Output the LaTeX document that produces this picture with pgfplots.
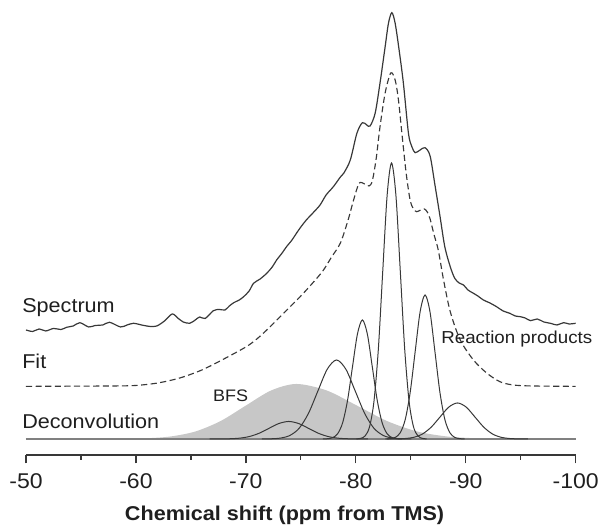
\documentclass[border=0pt]{standalone}
\usepackage{fontspec}
\setmainfont{Liberation Sans}[FakeStretch=1.08]
\usepackage{pgfplots}
\pgfplotsset{compat=1.18}
\definecolor{ln}{gray}{0.22}
\definecolor{bfs}{gray}{0.78}
\definecolor{txt}{gray}{0.12}
\begin{document}
\begin{tikzpicture}
\begin{axis}[
  scale only axis, width=412.3pt, height=341.25pt,
  xmin=-100, xmax=-50, x dir=reverse, ymin=-16, ymax=439,
  axis x line=bottom, axis y line=none,
  axis line style={-, line width=1pt, color=ln},
  xtick={-100,-90,-80,-70,-60,-50},
  xticklabels={-100,-90,-80,-70,-60,-50},
  minor xtick={-95,-85,-75,-65,-55},
  tick align=outside, major tick length=6.25pt, minor tick length=3.75pt,
  tick style={line width=1pt, color=ln},
  xticklabel style={anchor=base, inner sep=0pt, yshift=-19pt, font=\fontsize{16}{19}\selectfont, text=txt},
  clip=false,
]
% BFS area
\addplot[fill=bfs, draw=none, smooth] coordinates {
(-50,0) (-54,0) (-56.2,0.02) (-58.5,0.12) (-60.8,0.61) (-63.1,2.41) (-65.4,7.44) (-67.7,17.9) (-70.0,33.4) (-72.3,48.5) (-74.6,55)
(-77.35,48.5) (-80.1,33.4) (-82.85,17.9) (-85.6,7.44) (-88.35,2.41) (-91.1,0.61) (-93.85,0.12) (-96.6,0.02) (-100,0)} \closedcycle;
% baseline
\addplot[color=black!50, line width=1.3pt] coordinates {(-50,0) (-100,0)};
% components
\addplot[ln, line width=0.75pt, smooth] coordinates {
(-66.7,0.005) (-67.6,0.04) (-68.5,0.19) (-69.4,0.77) (-70.3,2.37) (-71.2,5.68) (-72.1,10.61) (-73.0,15.44) (-73.9,17.5)
(-74.8,15.44) (-75.7,10.61) (-76.6,5.68) (-77.5,2.37) (-78.4,0.77) (-79.3,0.19) (-80.2,0.04) (-81.1,0.005)};
\addplot[ln, line width=0.75pt, smooth] coordinates {
(-71.45,0.02) (-72.3,0.17) (-73.15,0.88) (-74.0,3.47) (-74.85,10.7) (-75.7,25.7) (-76.55,47.9) (-77.4,69.7) (-78.25,79)
(-79.1,69.7) (-79.95,47.9) (-80.8,25.7) (-81.65,10.7) (-82.5,3.47) (-83.35,0.88) (-84.2,0.17) (-85.05,0.02)};
\addplot[ln, line width=0.75pt, smooth] coordinates {
(-77.0,0.04) (-77.45,0.26) (-77.9,1.32) (-78.35,5.22) (-78.8,16.1) (-79.25,38.6) (-79.7,72.2) (-80.15,105.0) (-80.6,119)
(-81.05,105.0) (-81.5,72.2) (-81.95,38.6) (-82.4,16.1) (-82.85,5.22) (-83.3,1.32) (-83.75,0.26) (-84.2,0.04)};
\addplot[ln, line width=0.75pt, smooth] coordinates {
(-80.05,0.08) (-80.45,0.61) (-80.85,3.06) (-81.25,12.1) (-81.65,37.3) (-82.05,89.6) (-82.45,167.4) (-82.85,243.6) (-83.25,276)
(-83.65,243.6) (-84.05,167.4) (-84.45,89.6) (-84.85,37.3) (-85.25,12.1) (-85.65,3.06) (-86.05,0.61) (-86.45,0.08)};
\addplot[ln, line width=0.75pt, smooth] coordinates {
(-82.7,0.04) (-83.15,0.32) (-83.6,1.60) (-84.05,6.32) (-84.5,19.5) (-84.95,46.8) (-85.4,87.3) (-85.85,127.1) (-86.3,144)
(-86.75,127.1) (-87.2,87.3) (-87.65,46.8) (-88.1,19.5) (-88.55,6.32) (-89.0,1.60) (-89.45,0.32) (-89.9,0.04)};
\addplot[ln, line width=0.75pt, smooth] coordinates {
(-82.85,0.01) (-83.65,0.08) (-84.45,0.40) (-85.25,1.58) (-86.05,4.87) (-86.85,11.7) (-87.65,21.8) (-88.45,31.8) (-89.25,36)
(-90.05,31.8) (-90.85,21.8) (-91.65,11.7) (-92.45,4.87) (-93.25,1.58) (-94.05,0.40) (-94.85,0.08) (-95.65,0.01)};
% Fit
\addplot[ln, line width=0.85pt, smooth, dash pattern=on 4.6pt off 2.6pt] coordinates {
(-50,52.6) (-54,52.8) (-58,53) (-60,53.5) (-62,56) (-64,61) (-66,69) (-68,80) (-70,92) (-71,100) (-72,110) (-73,121)
(-74,132) (-75,143) (-76,155) (-77,168) (-77.8,182) (-78.6,196) (-79.3,219) (-79.8,239) (-80.3,255.7) (-80.8,255)
(-81.2,253) (-81.5,258) (-81.85,280) (-82.2,312) (-82.67,346) (-83.18,366) (-83.58,359) (-83.88,339) (-84.19,306)
(-84.58,266) (-84.94,239) (-85.25,230) (-85.55,227.3) (-85.9,229) (-86.24,230) (-86.5,227) (-86.76,220) (-87.1,205)
(-87.5,189) (-88.0,158) (-88.6,127) (-89.5,99) (-90.7,79) (-91.9,66) (-93.1,57.3) (-94.3,54) (-96,53) (-100,52.6)};
% Spectrum
\addplot[ln, line width=0.9pt, smooth] coordinates {
(-50,109) (-50.6,107.5) (-51.2,110) (-51.8,108) (-52.5,110.5) (-53.2,109.5) (-53.7,111.7) (-54.3,113) (-54.9,116.3)
(-55.7,112) (-56.3,113.5) (-57.0,114) (-57.6,116.7) (-58.6,112) (-59.2,114) (-59.8,115.7) (-60.5,114) (-61.3,112.5)
(-61.9,113) (-62.6,118) (-63.3,125) (-63.8,121) (-64.3,117) (-64.9,115.7) (-65.4,119) (-65.8,122) (-66.3,120.5)
(-67.05,128.3) (-67.6,129.5) (-68.1,129) (-68.5,133) (-68.9,136.3) (-69.4,139) (-69.8,142.3) (-70.3,148) (-70.7,155.7)
(-71.3,160) (-71.9,165.7) (-72.4,172) (-72.8,179) (-73.3,186) (-73.7,192.3) (-74.2,199) (-74.6,205.7) (-75.0,212)
(-75.5,219) (-76.1,226) (-76.75,234) (-77.3,244) (-77.96,252.3) (-78.6,262) (-78.9,265.7) (-79.5,279) (-80.1,305.7)
(-80.6,316.3) (-81.0,314) (-81.3,313) (-81.76,325.7) (-82.2,355.7) (-82.67,392.3) (-82.97,415.7) (-83.28,426.3)
(-83.58,415.7) (-83.94,389) (-84.33,355.7) (-84.79,305.7) (-85.1,292.3) (-85.4,286.3) (-85.85,289) (-86.3,291.3)
(-86.76,283) (-87.2,254) (-87.67,222) (-88.1,192) (-88.6,172) (-89.0,160.7) (-89.4,156) (-89.8,154) (-90.2,149)
(-90.7,145.7) (-91.1,143) (-91.6,139) (-92.2,136) (-92.8,132.3) (-93.4,128) (-94.0,125.7) (-94.5,123) (-94.95,122.3)
(-95.4,121) (-95.9,118.3) (-96.5,120) (-97.1,117) (-97.7,115.7) (-98.3,114) (-98.9,116.3) (-99.4,115) (-100,115.7)};
% labels
\node[anchor=base west, inner sep=0pt, text=txt, font=\fontsize{15}{18}\selectfont] at (axis cs:-49.64,126) {Spectrum};
\node[anchor=base west, inner sep=0pt, text=txt, font=\fontsize{15}{18}\selectfont] at (axis cs:-49.64,70) {Fit};
\node[anchor=base west, inner sep=0pt, text=txt, font=\fontsize{15}{18}\selectfont] at (axis cs:-49.64,10.7) {Deconvolution};
\node[anchor=base west, inner sep=0pt, text=txt, font=\fontsize{12.5}{15}\selectfont] at (axis cs:-66.99,37.3) {BFS};
\node[anchor=base west, inner sep=0pt, text=txt, font=\fontsize{13}{16}\selectfont] at (axis cs:-87.76,95) {Reaction products};
\node[anchor=base, inner sep=0pt, text=txt, font=\bfseries\fontsize{15}{18}\selectfont] at (axis cs:-73.52,-81.5) {Chemical shift (ppm from TMS)};
\end{axis}
\pgfresetboundingbox
\path[use as bounding box] ([xshift=-19.5pt,yshift=-52.5pt]current axis.south west) rectangle ([xshift=19pt]current axis.north east);
\end{tikzpicture}
\end{document}
